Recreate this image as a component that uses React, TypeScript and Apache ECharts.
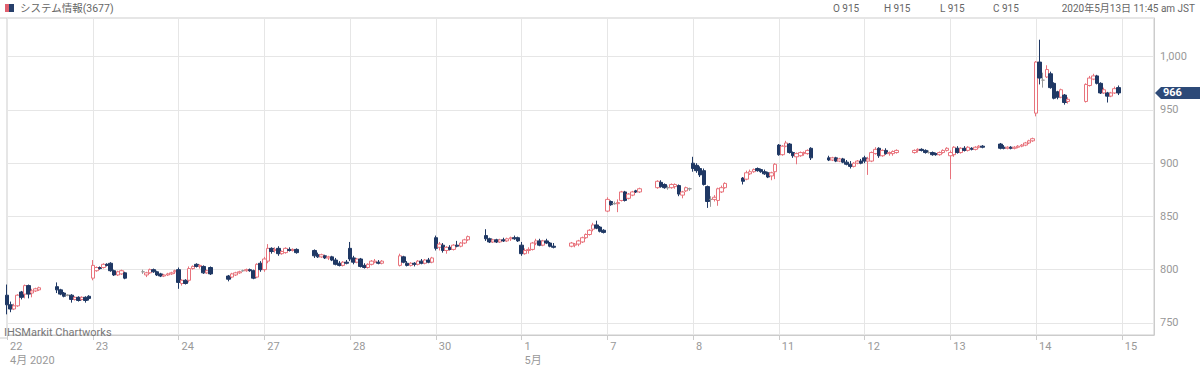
import React, { useEffect, useRef } from 'react';
import * as echarts from 'echarts';

// Day labels on the x axis (one per trading day; last is the boundary after the final day)
const dayLabels = ['22', '23', '24', '27', '28', '30', '1', '7', '8', '11', '12', '13', '14', '15'];
// Second-row month labels, keyed by day index
const monthLabels: Record<number, string> = { 0: '4月 2020', 6: '5月' };

// 15-minute candles, [open, high, low, close]; 10 morning (9:00-11:15) + 10 afternoon (12:30-14:45)
const apr22 = [
  [776, 786, 758, 767], [767, 770, 760, 763], [763, 768, 762, 766], [766, 777, 765, 776], [779, 780, 772, 774],
  [777, 786, 773, 785], [785, 786, 773, 777], [778, 782, 774, 780], [780, 783, 779, 782], [781, 784, 780, 783],
  [784, 788, 778, 781], [781, 782, 776, 777], [778, 779, 774, 775], [776, 777, 775, 776], [776, 777, 769, 772],
  [772, 775, 771, 774], [774, 775, 770, 771], [772, 775, 771, 774], [774, 775, 769, 771], [775, 776, 771, 773],
];
const apr23 = [
  [792, 809, 790, 804], [799, 803, 798, 802], [802, 803, 800, 801], [802, 806, 801, 805], [805, 806, 803, 804],
  [806, 807, 798, 799], [799, 800, 794, 795], [795, 799, 794, 798], [796, 800, 795, 799], [797, 798, 791, 792],
  [798, 800, 796, 798], [795, 798, 793, 797], [797, 801, 796, 800], [800, 801, 797, 798], [798, 799, 794, 795],
  [796, 797, 793, 794], [794, 796, 793, 795], [795, 797, 794, 796], [796, 798, 795, 797], [798, 800, 796, 799],
];
const apr24 = [
  [800, 802, 782, 788], [787, 791, 785, 790], [790, 791, 786, 787], [790, 803, 788, 801], [801, 804, 800, 803],
  [805, 806, 802, 803], [803, 805, 801, 804], [803, 804, 796, 797], [797, 800, 796, 799], [802, 803, 795, 796],
  [794, 795, 789, 791], [793, 797, 792, 796], [795, 798, 794, 797], [797, 799, 796, 798], [799, 800, 798, 799],
  [799, 801, 798, 800], [800, 801, 798, 799], [799, 800, 791, 792], [793, 806, 792, 805], [806, 808, 798, 800],
];
const apr27 = [
  [800, 812, 798, 810], [808, 824, 806, 820], [820, 821, 815, 817], [818, 821, 816, 819], [820, 822, 813, 815],
  [815, 818, 814, 817], [816, 821, 815, 820], [819, 821, 817, 818], [818, 820, 817, 819], [819, 820, 815, 816],
  [818, 819, 811, 813], [814, 816, 811, 812], [812, 815, 811, 814], [813, 814, 810, 811], [811, 813, 809, 812],
  [812, 813, 808, 809], [809, 811, 804, 805], [806, 808, 803, 804], [804, 808, 803, 807], [807, 809, 805, 806],
];
const apr28 = [
  [820, 826, 808, 810], [811, 813, 805, 807], [807, 811, 806, 810], [810, 811, 802, 803], [804, 806, 801, 802],
  [802, 806, 801, 805], [805, 809, 804, 808], [807, 810, 806, 808], [807, 809, 805, 806], [806, 809, 805, 808],
  [804, 815, 803, 813], [812, 813, 806, 807], [806, 808, 803, 804], [804, 807, 803, 806], [806, 807, 803, 805],
  [805, 809, 804, 808], [808, 810, 805, 806], [806, 810, 805, 809], [809, 811, 806, 807], [807, 812, 806, 811],
];
const apr30 = [
  [830, 832, 818, 820], [821, 826, 818, 824], [823, 825, 816, 818], [818, 822, 815, 821], [821, 823, 818, 819],
  [819, 824, 818, 823], [823, 827, 821, 822], [822, 826, 821, 825], [825, 829, 824, 828], [828, 832, 827, 831],
  [832, 838, 827, 829], [829, 830, 825, 826], [826, 829, 825, 828], [828, 829, 825, 826], [826, 829, 825, 828],
  [828, 830, 826, 827], [827, 830, 826, 829], [829, 831, 827, 830], [830, 832, 828, 829], [830, 831, 826, 827],
];
const may1 = [
  [823, 826, 813, 815], [815, 820, 814, 818], [818, 821, 815, 819], [819, 826, 818, 825], [825, 829, 823, 827],
  [827, 829, 822, 823], [823, 828, 822, 827], [827, 829, 824, 825], [825, 826, 821, 822], [822, 825, 820, 821],
  [822, 826, 821, 825], [823, 825, 821, 824], [824, 828, 822, 827], [826, 831, 825, 830], [830, 834, 829, 833],
  [833, 838, 832, 837], [838, 844, 836, 842], [842, 846, 838, 839], [840, 841, 835, 836], [837, 838, 834, 835],
];
const may7 = [
  [855, 868, 854, 866], [864, 865, 860, 861], [862, 864, 861, 862], [862, 866, 854, 863], [865, 874, 864, 873],
  [873, 874, 864, 865], [867, 872, 866, 871], [870, 874, 869, 873], [874, 875, 872, 873], [873, 877, 872, 876],
  [877, 884, 876, 883], [882, 884, 877, 878], [880, 881, 876, 877], [877, 879, 875, 877], [877, 881, 876, 880],
  [878, 881, 876, 880], [879, 880, 869, 871], [870, 874, 867, 873], [874, 878, 873, 877], [876, 877, 874, 876],
];
const may8 = [
  [900, 906, 892, 895], [898, 900, 891, 893], [895, 897, 887, 889], [893, 895, 879, 880], [878, 879, 858, 864],
  [866, 869, 859, 866], [866, 870, 864, 868], [865, 877, 860, 876], [873, 879, 872, 877], [877, 882, 876, 881],
  [886, 887, 880, 883], [885, 893, 884, 891], [890, 894, 889, 892], [892, 895, 891, 894], [895, 896, 892, 893],
  [894, 895, 891, 892], [892, 894, 889, 890], [891, 892, 886, 887], [888, 892, 884, 891], [892, 900, 885, 899],
];
const may11 = [
  [917, 918, 907, 908], [908, 917, 907, 916], [916, 921, 915, 919], [918, 919, 909, 910], [910, 911, 905, 907],
  [906, 910, 899, 909], [907, 911, 906, 910], [909, 911, 907, 910], [909, 913, 908, 912], [914, 915, 903, 905],
  [905, 907, 902, 903], [903, 906, 902, 905], [905, 906, 901, 902], [902, 905, 901, 904], [904, 905, 900, 901],
  [901, 903, 898, 899], [899, 902, 895, 897], [897, 901, 896, 900], [900, 903, 899, 902], [902, 904, 899, 900],
];
const may12 = [
  [905, 907, 900, 902], [902, 906, 889, 904], [902, 911, 901, 910], [909, 915, 908, 913], [914, 915, 905, 907],
  [907, 913, 906, 912], [912, 914, 908, 909], [909, 911, 907, 910], [909, 912, 907, 911], [910, 913, 909, 912],
  [910, 913, 909, 912], [912, 914, 910, 913], [913, 914, 911, 912], [912, 913, 909, 910], [910, 912, 909, 910],
  [910, 911, 907, 908], [909, 910, 907, 908], [908, 911, 907, 910], [910, 913, 909, 912], [912, 915, 911, 914],
];
const may13 = [
  [907, 912, 885, 910], [908, 916, 906, 915], [914, 916, 909, 910], [910, 915, 909, 914], [914, 916, 911, 912],
  [912, 916, 911, 915], [914, 915, 912, 913], [913, 916, 912, 915], [915, 917, 914, 916], [916, 917, 914, 915],
  [918, 919, 913, 914], [915, 917, 913, 914], [914, 916, 913, 915], [915, 916, 913, 914], [914, 916, 913, 915],
  [915, 917, 914, 916], [916, 918, 915, 917], [917, 920, 916, 919], [919, 922, 918, 921], [921, 924, 920, 923],
];
const may14 = [
  [947, 996, 944, 995], [995, 1016, 974, 980], [978, 985, 971, 978], [981, 992, 980, 988], [984, 986, 970, 971],
  [975, 976, 960, 961], [967, 968, 960, 962], [962, 970, 961, 969], [964, 965, 955, 957], [958, 962, 956, 960],
  [958, 975, 957, 974], [973, 982, 972, 980], [979, 984, 978, 982], [982, 983, 974, 975], [975, 976, 965, 966],
  [966, 971, 965, 969], [966, 967, 957, 963], [963, 967, 962, 966], [966, 972, 965, 970], [971, 973, 964, 966],
];

const days = [apr22, apr23, apr24, apr27, apr28, apr30, may1, may7, may8, may11, may12, may13, may14];

const header = {
  name: 'システム情報(3677)',
  ohlc: ['O 915', 'H 915', 'L 915', 'C 915'],
  time: '2020年5月13日 11:45 am JST',
  watermark: 'IHSMarkit Chartworks',
};

const SLOTS_PER_DAY = 24;
const TOTAL_SLOTS = 322;
const RED = '#e8737c';
const NAVY = '#1f3864';
const TAG = '#2d4a78';
const FONT = 'Roboto, "Noto Sans CJK JP", sans-serif';

export default function App() {
  const ref = useRef<HTMLDivElement>(null);
  useEffect(() => {
    if (!ref.current) return;
    const chart = echarts.init(ref.current, undefined, { renderer: 'svg' });

    const categories: string[] = [];
    for (let i = 0; i < TOTAL_SLOTS; i++) categories.push(String(i));
    const data: any[] = new Array(TOTAL_SLOTS).fill('-');
    let lastClose = 0;
    days.forEach((day, d) => {
      day.forEach((c, j) => {
        const slot = j < 10 ? j : j + 4;
        const [o, h, l, cl] = c;
        data[d * SLOTS_PER_DAY + slot] = [o, cl, l, h];
        lastClose = cl;
      });
    });

    const isDay = (i: number) => i % SLOTS_PER_DAY === 0;

    chart.setOption({
      animation: false,
      textStyle: { fontFamily: FONT },
      grid: { left: 7, right: 46, top: 18, bottom: 29, show: true, borderColor: '#cccccc', borderWidth: 1 },
      xAxis: {
        type: 'category',
        data: categories,
        boundaryGap: false,
        axisLine: { show: true, lineStyle: { color: '#cccccc' } },
        axisTick: { show: true, interval: (i: number) => isDay(i), length: 5, lineStyle: { color: '#cccccc' } },
        axisLabel: {
          interval: (i: number) => isDay(i),
          align: 'left',
          padding: [0, 0, 0, 3],
          margin: 4,
          color: '#999999',
          fontSize: 11,
          lineHeight: 14,
          fontFamily: FONT,
          formatter: (_v: string, i: number) => {
            const d = i / SLOTS_PER_DAY;
            const lab = dayLabels[d] ?? '';
            return monthLabels[d] ? lab + '\n' + monthLabels[d] : lab;
          },
        },
        splitLine: { show: true, interval: (i: number) => isDay(i), lineStyle: { color: '#e6e6e6' } },
      },
      yAxis: {
        type: 'value',
        position: 'right',
        min: 738.6,
        max: 1036.4,
        splitNumber: 6,
        axisLine: { show: true, lineStyle: { color: '#cccccc' } },
        axisTick: { show: false },
        axisLabel: {
          color: '#999999',
          fontSize: 11,
          margin: 6,
          fontFamily: FONT,
          showMinLabel: false,
          showMaxLabel: false,
          formatter: (v: number) => (Math.abs(v % 50) < 1e-6 ? v.toLocaleString('en-US') : ''),
        },
        splitLine: { show: true, lineStyle: { color: '#e6e6e6' } },
      },
      series: [
        {
          type: 'candlestick',
          data,
          barWidth: 4,
          itemStyle: {
            color: '#ffffff',
            color0: NAVY,
            borderColor: RED,
            borderColor0: NAVY,
            borderColorDoji: '#9a9a9a',
            borderWidth: 1,
          },
        },
      ],
    });

    const yTag = chart.convertToPixel({ yAxisIndex: 0 }, lastClose) as number;
    const ohlcX = [833, 884, 940, 993];

    chart.setOption({
      graphic: [
        { type: 'line', id: 'hdrline', shape: { x1: 0, y1: 18, x2: 7, y2: 18 }, style: { stroke: '#cccccc', lineWidth: 1 }, silent: true },
        { type: 'line', id: 'btmline', shape: { x1: 0, y1: 338, x2: 7, y2: 338 }, style: { stroke: '#cccccc', lineWidth: 1 }, silent: true },
        { type: 'rect', id: 'icR', shape: { x: 5, y: 4, width: 4, height: 8 }, style: { fill: '#e0606e' }, silent: true },
        { type: 'rect', id: 'icN', shape: { x: 9, y: 4, width: 5, height: 8 }, style: { fill: '#27406b' }, silent: true },
        {
          type: 'text', id: 'name', x: 20, y: 8, silent: true,
          style: { text: header.name, fill: '#666666', fontSize: 10.5, fontFamily: FONT, verticalAlign: 'middle', textVerticalAlign: 'middle' },
        },
        ...header.ohlc.map((t, i) => ({
          type: 'text', id: 'ohlc' + i, x: ohlcX[i], y: 8, silent: true,
          style: { text: t, fill: '#666666', fontSize: 10, fontFamily: FONT, verticalAlign: 'middle', textVerticalAlign: 'middle' },
        })),
        {
          type: 'text', id: 'time', x: 1195, y: 8, silent: true,
          style: { text: header.time, fill: '#666666', fontSize: 10, fontFamily: FONT, align: 'right', textAlign: 'right', verticalAlign: 'middle', textVerticalAlign: 'middle' },
        },
        {
          type: 'text', id: 'wm', x: 4, y: 332, z: 50, silent: true,
          style: { text: header.watermark, fill: '#777777', fontSize: 11, fontFamily: FONT, verticalAlign: 'middle', textVerticalAlign: 'middle' },
        },
        {
          type: 'polygon', id: 'tag', z: 100, silent: true,
          shape: { points: [[1155, yTag], [1161, yTag - 6], [1200, yTag - 6], [1200, yTag + 6], [1161, yTag + 6]] },
          style: { fill: TAG },
        },
        {
          type: 'text', id: 'tagtxt', x: 1163, y: yTag, z: 101, silent: true,
          style: { text: String(lastClose), fill: '#ffffff', fontSize: 11, fontWeight: 'bold', fontFamily: FONT, verticalAlign: 'middle', textVerticalAlign: 'middle' },
        },
      ],
    });

    return () => chart.dispose();
  }, []);

  return <div ref={ref} style={{ position: 'absolute', left: 0, top: 0, width: 1200, height: 367 }} />;
}
